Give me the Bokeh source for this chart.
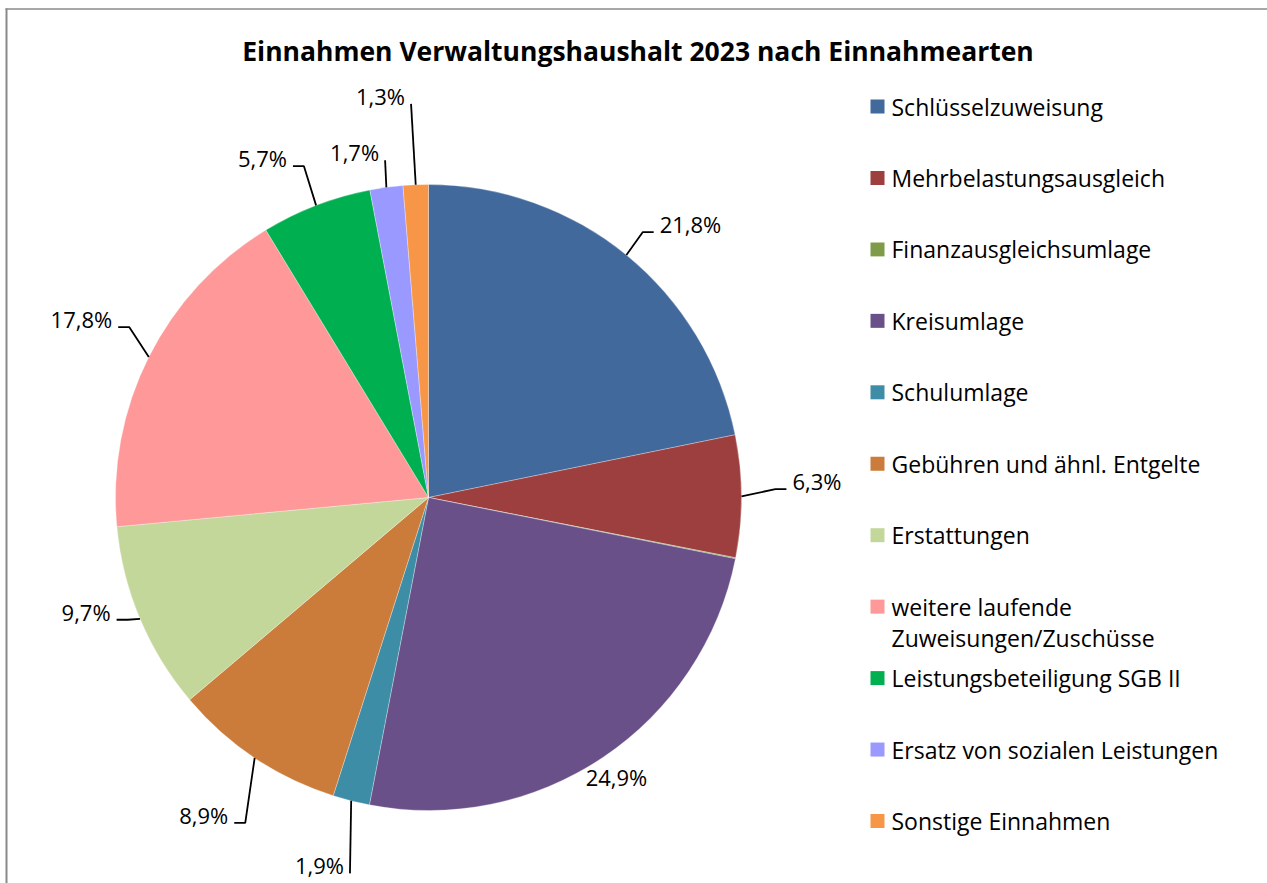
import math
from bokeh.plotting import figure
from bokeh.models import ColumnDataSource, Range1d
from bokeh.core.properties import value
from bokeh.embed import file_html
from bokeh.resources import INLINE

# ---------------- data ----------------
title_text = "Einnahmen Verwaltungshaushalt 2023 nach Einnahmearten"
categories = [
    "Schlüsselzuweisung",
    "Mehrbelastungsausgleich",
    "Finanzausgleichsumlage",
    "Kreisumlage",
    "Schulumlage",
    "Gebühren und ähnl. Entgelte",
    "Erstattungen",
    "weitere laufende\nZuweisungen/Zuschüsse",
    "Leistungsbeteiligung SGB II",
    "Ersatz von sozialen Leistungen",
    "Sonstige Einnahmen",
]
shares = [21.8, 6.3, 0.05, 24.9, 1.9, 8.9, 9.7, 17.8, 5.7, 1.7, 1.3]
colors = [
    "#41699c", "#9d3f3e", "#7f9b48", "#6a5088", "#3c8da5", "#cb7b3a",
    "#c4d79b", "#ff9999", "#00b050", "#9999ff", "#f79646",
]

# ---------------- layout (page pixels) ----------------
W, H = 1267, 883
OX, OY = 0, 0
CX, CY, R = 428, 497, 313
FONT = "Open Sans"
LABEL_SIZE = "22px"
LEGEND_SIZE = "23px"
TITLE_SIZE = "26.5px"
# per-label anchor: radial distance and angular shift (deg) from slice middle
label_dist = [348, 358, None, 325, 384, 379, 335, 354, 358, 340, 394]
label_shift = [1.1, -1.1, 0, 6.2, -2.5, -2.9, 1.4, 2.1, -1.2, 0.4, -0.2]
LEG_X, LEG_Y0, LEG_DY, LEG_LINE = 877, 106, 71.45, 31


def X(px):
    return px - OX


def Y(py):
    return H - (py - OY)


p = figure(width=W, height=H, output_backend="svg", toolbar_location=None,
           x_range=Range1d(0, W), y_range=Range1d(0, H),
           x_axis_type=None, y_axis_type=None, min_border=0)
p.grid.visible = False
p.outline_line_color = None
p.background_fill_color = "white"
p.border_fill_color = "white"

# chart frame (left and top edges visible)
p.segment(x0=[X(6), X(5)], y0=[Y(883), Y(8.5)], x1=[X(6), X(W)], y1=[Y(8), Y(8.5)],
          line_color="#8a8a8a", line_width=[2, 1.5])

# ---------------- pie ----------------
total = sum(shares)
starts, ends, mids = [], [], []
acc = 0.0
for v in shares:
    a0 = acc / total * 360.0
    acc += v
    a1 = acc / total * 360.0
    mids.append((a0 + a1) / 2)
    starts.append(math.radians(90 - a1))
    ends.append(math.radians(90 - a0))

src = ColumnDataSource(dict(x=[X(CX)] * len(shares), y=[Y(CY)] * len(shares),
                            start=starts, end=ends, color=colors))
p.wedge(x="x", y="y", radius=R, start_angle="start", end_angle="end",
        direction="anticlock", fill_color="color", line_color="white",
        line_width=0.6, line_alpha=0.5, source=src)

# ---------------- data labels ----------------
lx, ly, lt = [], [], []
rx, ry, rt = [], [], []
lead_xs, lead_ys = [], []
for i, v in enumerate(shares):
    if label_dist[i] is None:
        continue
    pct = v / total * 100
    txt = f"{pct:.1f}%".replace(".", ",")
    ang = math.radians(mids[i] + label_shift[i])
    ax = CX + label_dist[i] * math.sin(ang)
    ay = CY - label_dist[i] * math.cos(ang)
    m = math.radians(mids[i])
    ex = CX + R * math.sin(m)
    ey = CY - R * math.cos(m)
    if mids[i] < 180:
        rx.append(X(ax + 6)); ry.append(Y(ay - 8)); rt.append(txt)
    else:
        lx.append(X(ax - 6)); ly.append(Y(ay - 8)); lt.append(txt)
    if label_dist[i] - R < 18:
        continue
    if abs(ex - ax) < 20:
        pts = [(ax, ay), (ex, ey)]
    else:
        bx = ax + (11 if ex > ax else -11)
        pts = [(ax, ay), (bx, ay), (ex, ey)]
    lead_xs.append([X(a) for a, _ in pts])
    lead_ys.append([Y(b) for _, b in pts])

p.multi_line(xs=lead_xs, ys=lead_ys, line_color="black", line_width=1.8)
p.text(x=rx, y=ry, text=rt, text_align="left", text_baseline="alphabetic",
       text_font=value(FONT), text_font_size=LABEL_SIZE, text_color="black")
p.text(x=lx, y=ly, text=lt, text_align="right", text_baseline="alphabetic",
       text_font=value(FONT), text_font_size=LABEL_SIZE, text_color="black")

# ---------------- title ----------------
p.text(x=[X(637.5)], y=[Y(50)], text=[title_text], text_align="center",
       text_baseline="alphabetic", text_font=value(FONT),
       text_font_size=TITLE_SIZE, text_font_style="bold", text_color="black")

# ---------------- legend ----------------
mx, my, mc = [], [], []
tx, ty, tt = [], [], []
for i, (cat, col) in enumerate(zip(categories, colors)):
    yy = LEG_Y0 + i * LEG_DY
    mx.append(X(LEG_X)); my.append(Y(yy)); mc.append(col)
    for k, line in enumerate(cat.split("\n")):
        tx.append(X(LEG_X + 14)); ty.append(Y(yy + k * LEG_LINE)); tt.append(line)
p.rect(x=mx, y=my, width=14, height=14, fill_color=mc, line_color=None)
p.text(x=tx, y=ty, text=tt, text_align="left", text_baseline="alphabetic",
       text_font=value(FONT), text_font_size=LEGEND_SIZE, text_color="black")

open("out.html", "w").write(file_html(p, INLINE))
